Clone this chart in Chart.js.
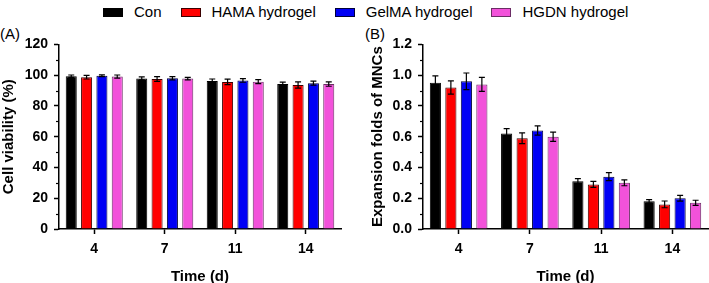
<!DOCTYPE html>
<html><head><meta charset="utf-8">
<script src="https://cdn.jsdelivr.net/npm/chart.js@4/dist/chart.umd.min.js"></script>
<style>
html,body{margin:0;padding:0;background:#fff;width:709px;height:283px;overflow:hidden;font-family:"Liberation Sans",Arial,sans-serif;}
#legend{position:absolute;left:103px;top:3px;display:flex;align-items:center;font-size:15px;color:#000;white-space:nowrap;line-height:18px}
.item{display:flex;align-items:center;margin-right:19px}
.box{width:20px;height:9px;margin-right:11px;box-sizing:border-box;border:1px solid #222}
.panel{position:absolute;top:30px;height:253px}
.lab{position:absolute;font-size:15px;top:25px;color:#000}
</style></head><body>
<div id="legend"></div>
<div class="lab" style="left:0px">(A)</div>
<div class="lab" style="left:365px">(B)</div>
<div class="panel" style="left:0;width:355px"><canvas id="cA"></canvas></div>
<div class="panel" style="left:355px;width:354px"><canvas id="cB"></canvas></div>
<script>
// ---- data ----
const categories = ['4', '7', '11', '14'];
const seriesNames = ['Con', 'HAMA hydrogel', 'GelMA hydrogel', 'HGDN hydrogel'];
const seriesColors = ['#000000', '#ff0000', '#0000f5', '#f252da'];
const seriesBorders = ['#000000', '#3a0000', '#00003a', '#6b2d65'];

// Panel A: Cell viability (%)
const viabilityCon   = [99.3, 97.9, 96.2, 94.2];
const viabilityHAMA  = [98.7, 97.5, 95.6, 93.6];
const viabilityGelMA = [99.6, 98.0, 96.6, 94.8];
const viabilityHGDN  = [99.1, 97.8, 95.8, 94.2];
const viabilityErrCon   = [0.8, 1.0, 1.3, 1.3];
const viabilityErrHAMA  = [1.2, 1.5, 1.8, 2.0];
const viabilityErrGelMA = [0.6, 1.0, 1.2, 1.3];
const viabilityErrHGDN  = [1.0, 0.8, 1.3, 1.4];

// Panel B: Expansion folds of MNCs
const expansionCon   = [0.95, 0.62, 0.31, 0.18];
const expansionHAMA  = [0.92, 0.59, 0.29, 0.16];
const expansionGelMA = [0.96, 0.64, 0.34, 0.20];
const expansionHGDN  = [0.94, 0.60, 0.30, 0.17];
const expansionErrCon   = [0.045, 0.032, 0.017, 0.011];
const expansionErrHAMA  = [0.043, 0.035, 0.020, 0.022];
const expansionErrGelMA = [0.054, 0.030, 0.026, 0.019];
const expansionErrHGDN  = [0.045, 0.030, 0.019, 0.017];

// ---- legend ----
const legend = document.getElementById('legend');
seriesNames.forEach((n, i) => {
  const it = document.createElement('div'); it.className = 'item';
  const b = document.createElement('div'); b.className = 'box';
  b.style.background = seriesColors[i]; b.style.borderColor = seriesBorders[i];
  const t = document.createElement('span'); t.textContent = n;
  it.appendChild(b); it.appendChild(t); legend.appendChild(it);
});

// ---- plugins ----
const errorBarPlugin = {
  id: 'errorBars',
  afterDatasetsDraw(chart) {
    const ctx = chart.ctx, yScale = chart.scales.y;
    ctx.save();
    ctx.strokeStyle = '#000'; ctx.lineWidth = 1.2;
    chart.data.datasets.forEach((ds, i) => {
      const meta = chart.getDatasetMeta(i);
      meta.data.forEach((bar, j) => {
        const v = ds.data[j], e = ds.errors[j];
        const x = bar.x;
        const yT = yScale.getPixelForValue(v + e);
        const yB = yScale.getPixelForValue(v - e);
        const cap = 3;
        ctx.beginPath();
        ctx.moveTo(x, yT); ctx.lineTo(x, yB);
        ctx.moveTo(x - cap, yT); ctx.lineTo(x + cap, yT);
        ctx.moveTo(x - cap, yB); ctx.lineTo(x + cap, yB);
        ctx.stroke();
      });
    });
    ctx.restore();
  }
};
const minorTickPlugin = {
  id: 'minorTicks',
  afterDraw(chart) {
    const y = chart.scales.y, ctx = chart.ctx;
    const vals = y.ticks.map(t => t.value);
    ctx.save(); ctx.strokeStyle = '#000'; ctx.lineWidth = 1.2;
    for (let k = 0; k < vals.length - 1; k++) {
      const p = Math.round(y.getPixelForValue((vals[k] + vals[k + 1]) / 2)) + 0.5;
      ctx.beginPath(); ctx.moveTo(y.right, p); ctx.lineTo(y.right - 3, p); ctx.stroke();
    }
    ctx.restore();
  }
};

const FONT = '"Liberation Sans", Arial, sans-serif';
function makeChart(id, seriesData, seriesErr, yMax, step, yTitle, padLeft, padRight, padTop, yWidth, fmt) {
  return new Chart(document.getElementById(id), {
    type: 'bar',
    data: {
      labels: categories,
      datasets: seriesNames.map((n, i) => ({
        label: n, data: seriesData[i], errors: seriesErr[i],
        backgroundColor: seriesColors[i], borderColor: seriesBorders[i], borderWidth: 1,
        categoryPercentage: 0.87, barPercentage: 0.72
      }))
    },
    options: {
      responsive: true, maintainAspectRatio: false, animation: false,
      layout: { padding: { left: padLeft, right: padRight, top: padTop, bottom: 0 } },
      plugins: { legend: { display: false }, tooltip: { enabled: false } },
      scales: {
        x: {
          offset: true,
          grid: { offset: false, drawOnChartArea: false, drawTicks: true, tickLength: 5, tickColor: '#000', tickWidth: 1.5 },
          border: { display: true, color: '#000', width: 1.5 },
          ticks: { color: '#000', font: { family: FONT, size: 14, weight: 'bold' }, padding: 7, maxRotation: 0 },
          title: { display: true, text: 'Time (d)', color: '#000', font: { family: FONT, size: 15, weight: 'bold' }, padding: { top: 0, bottom: -3 } },
          afterFit(s) { s.height = 54; }
        },
        y: {
          min: 0, max: yMax,
          grid: { drawOnChartArea: false, drawTicks: true, tickLength: 5, tickColor: '#000', tickWidth: 1.5 },
          border: { display: true, color: '#000', width: 1.5 },
          ticks: { stepSize: step, color: '#000', font: { family: FONT, size: 14, weight: 'bold' }, padding: 6, callback: fmt },
          title: { display: true, text: yTitle, color: '#000', font: { family: FONT, size: 15, weight: 'bold' }, padding: 0 },
          afterFit(s) { s.width = yWidth; }
        }
      }
    },
    plugins: [errorBarPlugin, minorTickPlugin]
  });
}

makeChart('cA',
  [viabilityCon, viabilityHAMA, viabilityGelMA, viabilityHGDN],
  [viabilityErrCon, viabilityErrHAMA, viabilityErrGelMA, viabilityErrHGDN],
  120, 20, 'Cell viability (%)', 0, 14, 13, 59, v => String(v));

makeChart('cB',
  [expansionCon, expansionHAMA, expansionGelMA, expansionHGDN],
  [expansionErrCon, expansionErrHAMA, expansionErrGelMA, expansionErrHGDN],
  1.2, 0.2, 'Expansion folds of MNCs', 14, 1, 12, 54, v => Number(v).toFixed(1));
</script>
</body></html>
